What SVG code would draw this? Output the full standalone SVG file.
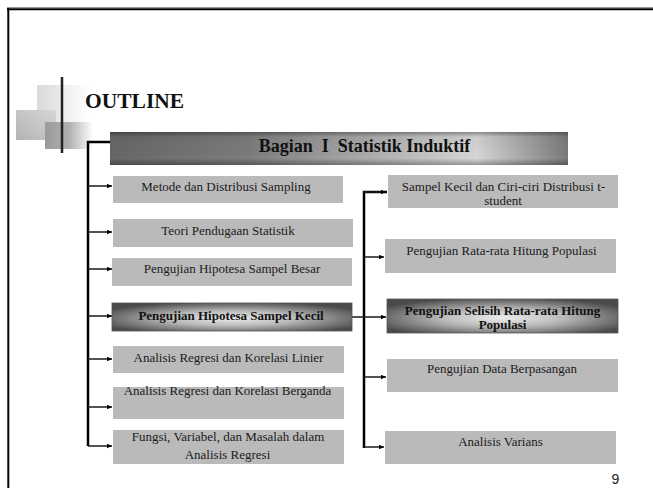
<svg xmlns="http://www.w3.org/2000/svg" width="653" height="488" viewBox="0 0 653 488">
<defs>
<style>
.box{fill:#bababa}
.dbox{fill:url(#dg);stroke:#555;stroke-width:0.8}
.t{font-family:"Liberation Serif","Times New Roman",serif;font-size:13px;fill:#1a1a1a;text-anchor:middle}
.tb{font-family:"Liberation Serif","Times New Roman",serif;font-size:13px;font-weight:bold;fill:#111;text-anchor:middle}
.arr{stroke:#1a1a1a;stroke-width:1.5;fill:none;marker-end:url(#ah)}
.trunk{stroke:#000;stroke-width:2.5;fill:none}
</style>
<marker id="ah" viewBox="0 0 6 6" refX="6" refY="3" markerWidth="5" markerHeight="5" markerUnits="userSpaceOnUse" orient="auto">
<path d="M0,0.3 L6,3 L0,5.7 z" fill="#000"/>
</marker>
<radialGradient id="dg" cx="50%" cy="55%" r="60%">
<stop offset="0" stop-color="#ececec"/>
<stop offset="0.45" stop-color="#b8b8b8"/>
<stop offset="1" stop-color="#4a4a4a"/>
</radialGradient>
<linearGradient id="hg" x1="0" y1="0" x2="1" y2="0">
<stop offset="0" stop-color="#676767"/>
<stop offset="0.3" stop-color="#7c7c7c"/>
<stop offset="0.8" stop-color="#d6d6d6"/>
<stop offset="1" stop-color="#7a7a7a"/>
</linearGradient>
<linearGradient id="hv" x1="0" y1="0" x2="0" y2="1">
<stop offset="0" stop-color="#000" stop-opacity="0.35"/>
<stop offset="0.15" stop-color="#000" stop-opacity="0.05"/>
<stop offset="0.8" stop-color="#000" stop-opacity="0"/>
<stop offset="1" stop-color="#000" stop-opacity="0.3"/>
</linearGradient>
<linearGradient id="sq1" x1="0" y1="0" x2="1" y2="0">
<stop offset="0" stop-color="#d9d9d9"/>
<stop offset="1" stop-color="#ffffff"/>
</linearGradient>
<linearGradient id="sq2" x1="0" y1="1" x2="1" y2="0">
<stop offset="0" stop-color="#b4b4b4"/>
<stop offset="1" stop-color="#d6d6d6"/>
</linearGradient>
<linearGradient id="sq3" x1="0" y1="0" x2="1" y2="0">
<stop offset="0" stop-color="#9a9a9a"/>
<stop offset="0.5" stop-color="#b0b0b0"/>
<stop offset="1" stop-color="#ffffff"/>
</linearGradient>
<linearGradient id="ul" x1="0" y1="0" x2="1" y2="0">
<stop offset="0" stop-color="#333"/>
<stop offset="0.4" stop-color="#555"/>
<stop offset="1" stop-color="#aaa" stop-opacity="0.3"/>
</linearGradient>
</defs>

<rect width="653" height="488" fill="#fff"/>

<g id="frame">
<line x1="7" y1="7.5" x2="653" y2="7.5" stroke="#999" stroke-width="1"/>
<line x1="7" y1="9.2" x2="653" y2="9.2" stroke="#000" stroke-width="2"/>
<line x1="8.3" y1="8" x2="8.3" y2="488" stroke="#000" stroke-width="2"/>
</g>

<g id="decoration">
<rect x="37" y="85" width="52" height="42" fill="url(#sq1)"/>
<rect x="16" y="110" width="40" height="30" fill="url(#sq2)"/>
<rect x="45" y="122" width="48" height="27" fill="url(#sq3)"/>
<line x1="33" y1="122" x2="300" y2="122" stroke="url(#ul)" stroke-width="2"/>
<line x1="62" y1="77" x2="62" y2="153" stroke="#222" stroke-width="2.5"/>
</g>

<g id="title">
<text x="85" y="108" font-family="Liberation Serif, Times New Roman, serif" font-size="21.5" font-weight="bold" fill="#111">OUTLINE</text>
</g>

<g id="connectors">
<path class="trunk" d="M110,142 H88 V446"/>
<line class="arr" x1="88" y1="186" x2="112" y2="186"/>
<line class="arr" x1="88" y1="232" x2="112" y2="232"/>
<line class="arr" x1="88" y1="269" x2="112" y2="269"/>
<line class="arr" x1="88" y1="316" x2="112" y2="316"/>
<line class="arr" x1="88" y1="359" x2="112" y2="359"/>
<line class="arr" x1="88" y1="407" x2="112" y2="407"/>
<line class="arr" x1="88" y1="446" x2="112" y2="446"/>
<path class="trunk" d="M387,192 H364 V448"/>
<line class="arr" x1="364" y1="192" x2="386" y2="192"/>
<line class="arr" x1="364" y1="257" x2="384" y2="257"/>
<line class="arr" x1="352" y1="317" x2="386" y2="317"/>
<line class="arr" x1="364" y1="377" x2="386" y2="377"/>
<line class="arr" x1="364" y1="447" x2="384" y2="447"/>
</g>

<g id="header">
<rect x="110" y="132" width="458" height="33" fill="url(#hg)"/>
<rect x="110" y="132" width="458" height="33" fill="url(#hv)"/>
<text x="364.5" y="152" xml:space="preserve" font-family="Liberation Serif, Times New Roman, serif" font-size="18" font-weight="bold" fill="#111" text-anchor="middle">Bagian  I  Statistik Induktif</text>
</g>

<g id="n1"><rect class="box" x="113" y="176" width="230" height="27"/><text class="t" x="226" y="191">Metode dan Distribusi Sampling</text></g>
<g id="n2"><rect class="box" x="113" y="219" width="240" height="28"/><text class="t" x="228" y="235">Teori Pendugaan Statistik</text></g>
<g id="n3"><rect class="box" x="112" y="258" width="240" height="28"/><text class="t" x="232" y="272.5">Pengujian Hipotesa Sampel Besar</text></g>
<g id="n4"><rect class="dbox" x="112" y="303" width="240" height="28"/><text class="tb" x="231" y="320">Pengujian Hipotesa Sampel Kecil</text></g>
<g id="n5"><rect class="box" x="113" y="346" width="231" height="27"/><text class="t" x="228.5" y="362">Analisis Regresi dan Korelasi Linier</text></g>
<g id="n6"><rect class="box" x="113" y="387" width="231" height="32"/><text class="t" x="227.5" y="394.5">Analisis Regresi dan Korelasi Berganda</text></g>
<g id="n7"><rect class="box" x="113" y="430" width="231" height="34"/><text class="t" x="228" y="440.5">Fungsi, Variabel, dan Masalah dalam</text><text class="t" x="227.5" y="459">Analisis Regresi</text></g>

<g id="r1"><rect class="box" x="388" y="175" width="230" height="33"/><text class="t" x="503.5" y="190.5">Sampel Kecil dan Ciri-ciri Distribusi t-</text><text class="t" x="503" y="205">student</text></g>
<g id="r2"><rect class="box" x="385" y="239" width="231" height="34"/><text class="t" x="501.5" y="255">Pengujian Rata-rata Hitung Populasi</text></g>
<g id="r3"><rect class="dbox" x="387" y="299" width="231" height="34"/><text class="tb" x="502.5" y="315">Pengujian Selisih Rata-rata Hitung</text><text class="tb" x="502.5" y="329">Populasi</text></g>
<g id="r4"><rect class="box" x="387" y="359" width="231" height="33"/><text class="t" x="502" y="373">Pengujian Data Berpasangan</text></g>
<g id="r5"><rect class="box" x="385" y="431" width="231" height="33"/><text class="t" x="500.5" y="446">Analisis Varians</text></g>

<g id="pagenum"><text x="611.5" y="484" font-family="Liberation Sans, Arial, sans-serif" font-size="14" fill="#222">9</text></g>
</svg>
